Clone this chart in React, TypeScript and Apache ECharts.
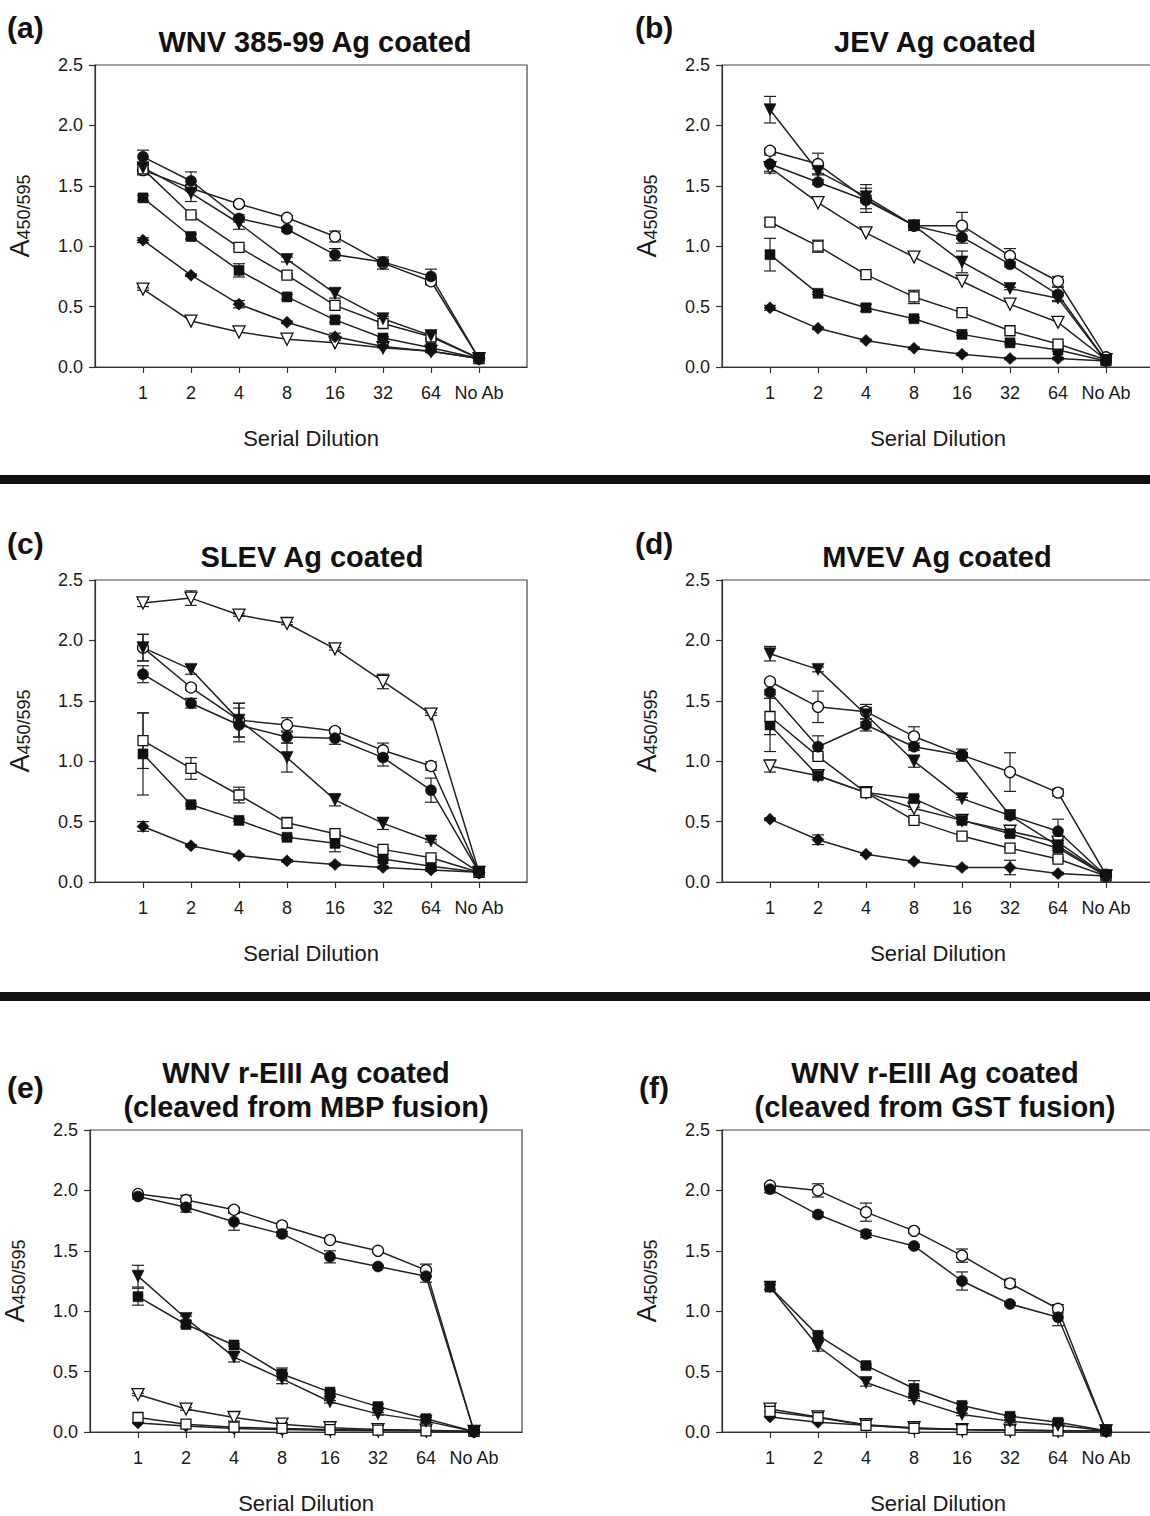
import React, { useEffect, useRef } from "react";
import * as echarts from "echarts";

// ---------- data ----------
const CATEGORIES = ["", "1", "2", "4", "8", "16", "32", "64", "No Ab", ""];
const Y_MIN = 0;
const Y_MAX = 2.5;
const Y_STEP = 0.5;

// series order: filled circle, open circle, filled triangle(down), open triangle(down), filled square, open square, filled diamond
const A_VALUES = [
  [1.74, 1.54, 1.23, 1.14, 0.93, 0.87, 0.75, 0.07],
  [1.63, 1.48, 1.35, 1.235, 1.08, 0.86, 0.71, 0.07],
  [1.65, 1.44, 1.19, 0.89, 0.61, 0.4, 0.26, 0.07],
  [0.645, 0.38, 0.29, 0.23, 0.2, 0.16, 0.13, 0.07],
  [1.4, 1.08, 0.8, 0.58, 0.39, 0.24, 0.16, 0.07],
  [1.64, 1.26, 0.99, 0.76, 0.51, 0.36, 0.25, 0.07],
  [1.05, 0.76, 0.52, 0.37, 0.25, 0.17, 0.13, 0.07],
];
const A_ERRORS = [
  [0.055, 0.075, 0.03, 0.02, 0.05, 0.02, 0.06, 0],
  [0.04, 0.02, 0.02, 0.02, 0.045, 0.05, 0.03, 0],
  [0.03, 0.07, 0.05, 0.02, 0.04, 0.02, 0.02, 0],
  [0.01, 0, 0, 0, 0, 0, 0, 0],
  [0.02, 0.02, 0.055, 0.02, 0.02, 0.01, 0.02, 0],
  [0.04, 0.01, 0.01, 0.01, 0.02, 0.01, 0.03, 0],
  [0.02, 0.01, 0.03, 0.01, 0.03, 0.01, 0.01, 0],
];

const B_VALUES = [
  [1.68, 1.53, 1.38, 1.17, 1.075, 0.85, 0.6, 0.05],
  [1.79, 1.68, 1.39, 1.17, 1.17, 0.92, 0.71, 0.08],
  [2.13, 1.62, 1.41, 1.17, 0.87, 0.65, 0.57, 0.05],
  [1.65, 1.36, 1.11, 0.91, 0.71, 0.52, 0.37, 0.06],
  [0.93, 0.61, 0.49, 0.4, 0.27, 0.2, 0.14, 0.05],
  [1.2, 1.0, 0.765, 0.58, 0.45, 0.3, 0.19, 0.06],
  [0.49, 0.32, 0.22, 0.155, 0.105, 0.07, 0.07, 0.05],
];
const B_ERRORS = [
  [0.075, 0.02, 0.1, 0.04, 0.05, 0.02, 0.06, 0],
  [0.02, 0.09, 0.03, 0.03, 0.11, 0.06, 0.04, 0],
  [0.11, 0.02, 0.1, 0.02, 0.09, 0.01, 0.02, 0],
  [0.03, 0, 0, 0, 0, 0, 0, 0],
  [0.135, 0.01, 0.03, 0.01, 0.01, 0.01, 0.01, 0],
  [0.03, 0.05, 0.01, 0.055, 0.01, 0.01, 0.01, 0],
  [0.02, 0.01, 0.01, 0.01, 0.01, 0.01, 0.01, 0],
];

const C_VALUES = [
  [1.72, 1.48, 1.3, 1.2, 1.19, 1.03, 0.76, 0.08],
  [1.94, 1.61, 1.34, 1.3, 1.25, 1.09, 0.96, 0.08],
  [1.94, 1.76, 1.34, 1.03, 0.68, 0.485, 0.34, 0.08],
  [2.31, 2.35, 2.21, 2.14, 1.93, 1.66, 1.39, 0.08],
  [1.06, 0.64, 0.51, 0.37, 0.32, 0.19, 0.13, 0.08],
  [1.17, 0.94, 0.72, 0.49, 0.4, 0.27, 0.2, 0.08],
  [0.46, 0.3, 0.22, 0.175, 0.145, 0.12, 0.1, 0.08],
];
const C_ERRORS = [
  [0.07, 0.04, 0.14, 0.05, 0.05, 0.07, 0.1, 0],
  [0.11, 0.02, 0.14, 0.06, 0.02, 0.06, 0.035, 0],
  [0.11, 0.04, 0.14, 0.12, 0.05, 0.05, 0.01, 0],
  [0.03, 0.06, 0.01, 0.01, 0.01, 0.06, 0.01, 0],
  [0.34, 0.01, 0.01, 0.01, 0.07, 0.01, 0.01, 0],
  [0.23, 0.09, 0.065, 0.045, 0.01, 0.01, 0.01, 0],
  [0.04, 0.01, 0.01, 0.01, 0.01, 0.01, 0.01, 0],
];

const D_VALUES = [
  [1.57, 1.12, 1.3, 1.12, 1.05, 0.55, 0.42, 0.05],
  [1.66, 1.45, 1.41, 1.205, 1.05, 0.91, 0.74, 0.06],
  [1.89, 1.76, 1.385, 1.0, 0.69, 0.55, 0.3, 0.05],
  [0.96, 0.88, 0.74, 0.61, 0.51, 0.42, 0.33, 0.05],
  [1.3, 0.88, 0.74, 0.69, 0.51, 0.4, 0.28, 0.05],
  [1.37, 1.04, 0.74, 0.51, 0.38, 0.28, 0.19, 0.05],
  [0.52, 0.35, 0.23, 0.17, 0.12, 0.12, 0.07, 0.05],
];
const D_ERRORS = [
  [0.02, 0.09, 0.05, 0.03, 0.02, 0.03, 0.1, 0],
  [0.01, 0.13, 0.06, 0.08, 0.05, 0.16, 0.03, 0],
  [0.06, 0.02, 0.06, 0.05, 0.01, 0.02, 0.02, 0],
  [0.05, 0.01, 0.01, 0.01, 0.01, 0.01, 0.01, 0],
  [0.22, 0.03, 0.03, 0.02, 0.02, 0.02, 0.02, 0],
  [0.15, 0.01, 0.01, 0.01, 0.01, 0.01, 0.01, 0],
  [0.01, 0.04, 0.01, 0.01, 0.01, 0.06, 0.01, 0],
];

const E_VALUES = [
  [1.95, 1.86, 1.74, 1.64, 1.45, 1.37, 1.29, 0.005],
  [1.97, 1.92, 1.84, 1.71, 1.59, 1.5, 1.34, 0.005],
  [1.29, 0.94, 0.62, 0.44, 0.25, 0.15, 0.09, 0.005],
  [0.31, 0.19, 0.12, 0.065, 0.035, 0.02, 0.015, 0.005],
  [1.12, 0.89, 0.72, 0.48, 0.33, 0.21, 0.11, 0.005],
  [0.12, 0.065, 0.04, 0.03, 0.02, 0.015, 0.01, 0.005],
  [0.075, 0.05, 0.03, 0.02, 0.015, 0.01, 0.01, 0.005],
];
const E_ERRORS = [
  [0.02, 0.04, 0.07, 0.02, 0.05, 0.01, 0.05, 0],
  [0.01, 0.04, 0.02, 0.01, 0.01, 0.01, 0.05, 0],
  [0.09, 0.02, 0.04, 0.04, 0.01, 0.01, 0.01, 0],
  [0.01, 0.01, 0.03, 0.01, 0, 0, 0, 0],
  [0.07, 0.02, 0.01, 0.05, 0.01, 0.02, 0.01, 0],
  [0, 0, 0, 0, 0, 0, 0, 0],
  [0, 0, 0, 0, 0, 0, 0, 0],
];

const F_VALUES = [
  [2.01, 1.8, 1.64, 1.54, 1.25, 1.06, 0.95, 0.01],
  [2.04, 2.0, 1.82, 1.665, 1.46, 1.23, 1.02, 0.01],
  [1.2, 0.71, 0.41, 0.27, 0.145, 0.09, 0.055, 0.01],
  [0.19, 0.125, 0.06, 0.035, 0.02, 0.015, 0.01, 0.01],
  [1.2, 0.8, 0.55, 0.36, 0.22, 0.13, 0.08, 0.01],
  [0.17, 0.12, 0.055, 0.03, 0.02, 0.015, 0.01, 0.01],
  [0.125, 0.08, 0.055, 0.03, 0.02, 0.015, 0.01, 0.01],
];
const F_ERRORS = [
  [0.03, 0.02, 0.03, 0.01, 0.075, 0.01, 0.07, 0],
  [0.01, 0.055, 0.075, 0.02, 0.055, 0.035, 0.035, 0],
  [0.02, 0.04, 0.03, 0.01, 0.01, 0.01, 0.01, 0],
  [0.02, 0, 0, 0, 0, 0, 0, 0],
  [0.02, 0.02, 0.01, 0.065, 0.02, 0.01, 0.01, 0],
  [0, 0, 0, 0, 0, 0, 0, 0],
  [0, 0, 0, 0, 0, 0, 0, 0],
];

const PANEL_LETTERS = ["(a)", "(b)", "(c)", "(d)", "(e)", "(f)"];
const PANEL_TITLES = [
  ["WNV 385-99 Ag coated"],
  ["JEV Ag coated"],
  ["SLEV Ag coated"],
  ["MVEV Ag coated"],
  ["WNV r-EIII Ag coated", "(cleaved from MBP fusion)"],
  ["WNV r-EIII Ag coated", "(cleaved from GST fusion)"],
];
const X_NAME = "Serial Dilution";

// ---------- styles / layout ----------
const FONT = '"Liberation Sans", Arial, Helvetica, sans-serif';
const INK = "#1a1a1a";

const SYMBOLS = [
  { symbol: "circle", size: 11, rotate: 0, filled: true },
  { symbol: "circle", size: 11, rotate: 0, filled: false },
  { symbol: "triangle", size: 12, rotate: 180, filled: true },
  { symbol: "triangle", size: 12, rotate: 180, filled: false },
  { symbol: "rect", size: 10, rotate: 0, filled: true },
  { symbol: "rect", size: 10, rotate: 0, filled: false },
  { symbol: "diamond", size: 12, rotate: 0, filled: true },
];
// draw order (later on top)
const DRAW_ORDER = [3, 6, 4, 1, 5, 2, 0];

const LAYOUT = [
  { left: 95, top: 65, titleX: 315, titleY: [42], letterX: 7, letterY: 27 },
  { left: 722, top: 65, titleX: 935, titleY: [42], letterX: 635, letterY: 27 },
  { left: 95, top: 580, titleX: 312, titleY: [557], letterX: 7, letterY: 543 },
  { left: 722, top: 580, titleX: 937, titleY: [557], letterX: 635, letterY: 543 },
  { left: 90, top: 1130, titleX: 306, titleY: [1073, 1107], letterX: 7, letterY: 1087 },
  { left: 722, top: 1130, titleX: 935, titleY: [1073, 1107], letterX: 639, letterY: 1087 },
];
const PLOT_W = 432;
const PLOT_H = 302;
const CANVAS_W = 1170;
const CANVAS_H = 1516;

const ALL_VALUES = [A_VALUES, B_VALUES, C_VALUES, D_VALUES, E_VALUES, F_VALUES];
const ALL_ERRORS = [A_ERRORS, B_ERRORS, C_ERRORS, D_ERRORS, E_ERRORS, F_ERRORS];

function buildOption() {
  const grid: any[] = [];
  const xAxis: any[] = [];
  const yAxis: any[] = [];
  const series: any[] = [];
  const graphic: any[] = [];

  const axisLineStyle = { color: "#333", width: 1.2 };

  LAYOUT.forEach((L, i) => {
    grid.push({
      left: L.left,
      top: L.top,
      width: PLOT_W,
      height: PLOT_H,
      containLabel: false,
      show: true,
      borderColor: "#444",
      borderWidth: 1.2,
      backgroundColor: "transparent",
    });
    xAxis.push({
      type: "category",
      gridIndex: i,
      data: CATEGORIES,
      boundaryGap: false,
      axisLine: { show: true, onZero: false, lineStyle: axisLineStyle },
      axisTick: {
        show: true,
        length: 6,
        interval: (idx: number) => idx > 0 && idx < CATEGORIES.length - 1,
        lineStyle: axisLineStyle,
      },
      axisLabel: { interval: 0, fontSize: 18, color: INK, fontFamily: FONT, margin: 17 },
      splitLine: { show: false },
      name: X_NAME,
      nameLocation: "middle",
      nameGap: 60,
      nameTextStyle: { fontSize: 22, color: INK, fontFamily: FONT },
    });
    yAxis.push({
      type: "value",
      gridIndex: i,
      min: Y_MIN,
      max: Y_MAX,
      interval: Y_STEP,
      axisLine: { show: true, lineStyle: axisLineStyle },
      axisTick: { show: true, length: 6, lineStyle: axisLineStyle },
      axisLabel: {
        formatter: (v: number) => v.toFixed(1),
        fontSize: 18,
        color: INK,
        fontFamily: FONT,
        margin: 12,
      },
      splitLine: { show: false },
      name: "{a|A}{s|450/595}",
      nameLocation: "middle",
      nameRotate: 90,
      nameGap: 62,
      nameTextStyle: {
        color: INK,
        fontFamily: FONT,
        rich: {
          a: { fontSize: 27, fontFamily: FONT, color: INK, lineHeight: 30, verticalAlign: "bottom" },
          s: { fontSize: 18, fontFamily: FONT, color: INK, lineHeight: 30, verticalAlign: "bottom" },
        },
      },
    });

    const vals = ALL_VALUES[i];
    const errs = ALL_ERRORS[i];

    const errData: any[] = [];
    vals.forEach((row, k) => {
      row.forEach((v, j) => {
        const e = errs[k][j];
        if (e > 0) errData.push([j + 1, v, e]);
      });
    });
    series.push({
      type: "custom",
      xAxisIndex: i,
      yAxisIndex: i,
      z: 2,
      silent: true,
      encode: { x: 0, y: 1 },
      data: errData,
      renderItem: (params: any, api: any) => {
        const x = api.value(0);
        const y = api.value(1);
        const e = api.value(2);
        const t = api.coord([x, y + e]);
        const b = api.coord([x, y - e]);
        const hw = 6;
        const st = { stroke: "#222", lineWidth: 1.2 };
        return {
          type: "group",
          children: [
            { type: "line", shape: { x1: t[0], y1: t[1], x2: b[0], y2: b[1] }, style: st },
            { type: "line", shape: { x1: t[0] - hw, y1: t[1], x2: t[0] + hw, y2: t[1] }, style: st },
            { type: "line", shape: { x1: b[0] - hw, y1: b[1], x2: b[0] + hw, y2: b[1] }, style: st },
          ],
        };
      },
    });

    DRAW_ORDER.forEach((k) => {
      const s = SYMBOLS[k];
      series.push({
        type: "line",
        xAxisIndex: i,
        yAxisIndex: i,
        z: 3,
        silent: true,
        data: vals[k].map((v, j) => [j + 1, v]),
        symbol: s.symbol,
        symbolSize: s.size,
        symbolRotate: s.rotate,
        showSymbol: true,
        showAllSymbol: true,
        lineStyle: { color: "#222", width: 1.5 },
        itemStyle: {
          color: s.filled ? "#111" : "#fff",
          borderColor: "#111",
          borderWidth: s.filled ? 0.6 : 1.3,
        },
        emphasis: { disabled: true },
      });
    });

    graphic.push({
      type: "text",
      x: L.letterX,
      y: L.letterY,
      silent: true,
      style: {
        text: PANEL_LETTERS[i],
        fontSize: 30,
        fontWeight: "bold",
        fontFamily: FONT,
        fill: "#111",
        align: "left",
        verticalAlign: "middle",
      },
    });
    PANEL_TITLES[i].forEach((line, li) => {
      graphic.push({
        type: "text",
        x: L.titleX,
        y: L.titleY[li],
        silent: true,
        style: {
          text: line,
          fontSize: 29,
          fontWeight: "bold",
          fontFamily: FONT,
          fill: "#111",
          align: "center",
          verticalAlign: "middle",
        },
      });
    });
  });

  graphic.push({
    type: "rect",
    silent: true,
    shape: { x: 0, y: 475, width: CANVAS_W, height: 9 },
    style: { fill: "#111" },
  });
  graphic.push({
    type: "rect",
    silent: true,
    shape: { x: 0, y: 992, width: CANVAS_W, height: 9 },
    style: { fill: "#111" },
  });

  return {
    animation: false,
    backgroundColor: "#fff",
    textStyle: { fontFamily: FONT },
    grid,
    xAxis,
    yAxis,
    series,
    graphic,
  };
}

export default function App() {
  const ref = useRef<HTMLDivElement>(null);
  useEffect(() => {
    document.body.style.margin = "0";
    document.body.style.overflow = "hidden";
    document.documentElement.style.overflow = "hidden";
    if (!ref.current) return;
    const chart = echarts.init(ref.current, undefined, { renderer: "svg" });
    chart.setOption(buildOption() as any);
    return () => chart.dispose();
  }, []);
  return (
    <div style={{ width: 1150, height: CANVAS_H, overflow: "hidden" }}>
      <div ref={ref} style={{ width: CANVAS_W, height: CANVAS_H }} />
    </div>
  );
}
